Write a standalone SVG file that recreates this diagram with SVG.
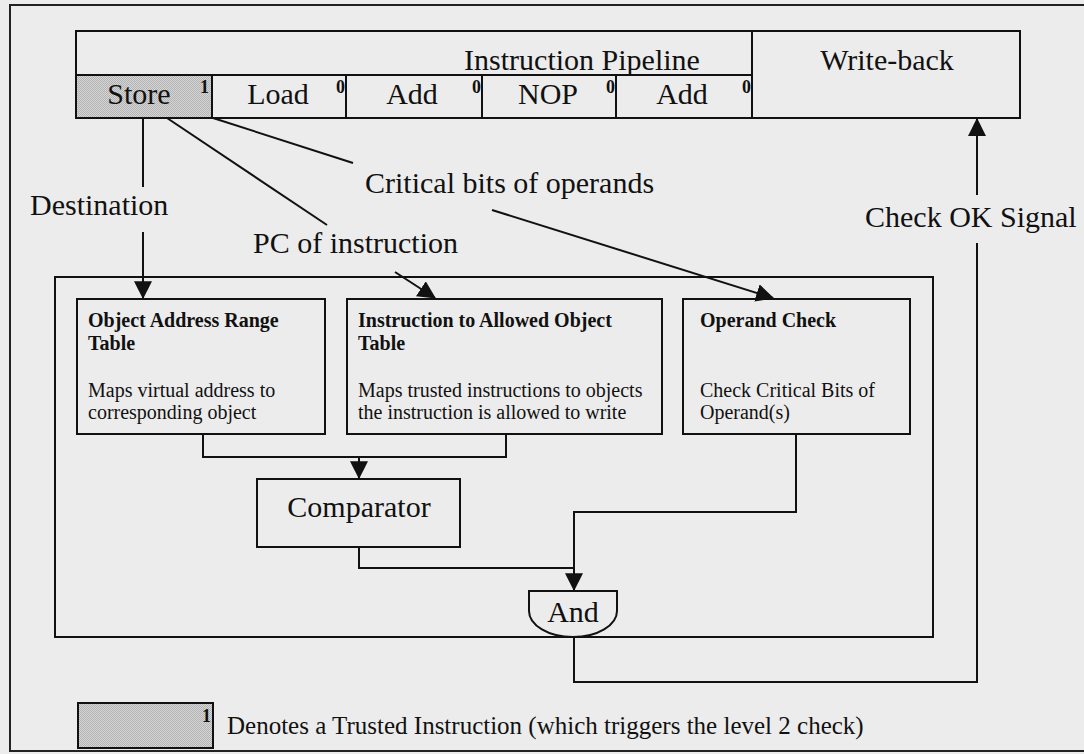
<svg xmlns="http://www.w3.org/2000/svg" width="1084" height="754" viewBox="0 0 1084 754">
<style>
  text { font-family: "Liberation Serif", "Times New Roman", serif; fill: #111; }
  .lbl { font-size: 30px; }
  .sup { font-size: 18px; font-weight: bold; }
  .bt { font-size: 20px; font-weight: bold; }
  .rt { font-size: 20px; }
  .box { fill: none; stroke: #111; stroke-width: 2; }
  .trusted { fill: url(#dots); stroke: #111; stroke-width: 2; }
  .ln { fill: none; stroke: #111; stroke-width: 2; }
</style>
<defs>
  <pattern id="dots" width="2" height="2" patternUnits="userSpaceOnUse">
    <rect width="2" height="2" fill="#d6d6d6"/>
    <rect x="0" y="0" width="1" height="1" fill="#b2b2b2"/>
    <rect x="1" y="1" width="1" height="1" fill="#b2b2b2"/>
  </pattern>
  <marker id="arr" markerUnits="userSpaceOnUse" markerWidth="18" markerHeight="18" viewBox="0 0 16 16" refX="15" refY="8" orient="auto">
    <path d="M0,0 L16,8 L0,16 Z" fill="#111"/>
  </marker>
</defs>
<rect x="0" y="0" width="1084" height="754" fill="#ececec"/>
<rect x="10" y="5" width="1084" height="746" fill="none" stroke="#222" stroke-width="2"/>

<g id="pipeline">
  <rect x="76" y="31" width="676" height="87" class="box"/>
  <line x1="76" y1="75" x2="752" y2="75" class="ln"/>
  <text class="lbl" x="582" y="70" text-anchor="middle">Instruction Pipeline</text>
</g>
<g id="cell-store">
  <rect x="76" y="75" width="136" height="43" class="trusted"/>
  <text class="lbl" x="139" y="104" text-anchor="middle">Store</text>
  <text class="sup" x="209" y="93" text-anchor="end">1</text>
</g>
<g id="cell-load">
  <rect x="212" y="75" width="134" height="43" class="box"/>
  <text class="lbl" x="278" y="104" text-anchor="middle">Load</text>
  <text class="sup" x="345" y="93" text-anchor="end">0</text>
</g>
<g id="cell-add1">
  <rect x="346" y="75" width="136" height="43" class="box"/>
  <text class="lbl" x="412" y="104" text-anchor="middle">Add</text>
  <text class="sup" x="481" y="93" text-anchor="end">0</text>
</g>
<g id="cell-nop">
  <rect x="482" y="75" width="134" height="43" class="box"/>
  <text class="lbl" x="548" y="104" text-anchor="middle">NOP</text>
  <text class="sup" x="615" y="93" text-anchor="end">0</text>
</g>
<g id="cell-add2">
  <rect x="616" y="75" width="136" height="43" class="box"/>
  <text class="lbl" x="682" y="104" text-anchor="middle">Add</text>
  <text class="sup" x="751" y="93" text-anchor="end">0</text>
</g>
<g id="writeback">
  <rect x="752" y="31" width="268" height="87" class="box"/>
  <text class="lbl" x="887" y="70" text-anchor="middle">Write-back</text>
</g>

<g id="labels">
  <text class="lbl" x="30" y="215">Destination</text>
  <text class="lbl" x="253" y="253">PC of instruction</text>
  <text class="lbl" x="365" y="193">Critical bits of operands</text>
  <text class="lbl" x="865" y="227">Check OK Signal</text>
</g>

<g id="checker">
  <rect x="55" y="277" width="878" height="360" class="box"/>
</g>
<g id="oart">
  <rect x="77" y="299" width="248" height="135" class="box"/>
  <text class="bt" x="88" y="327">Object Address Range</text>
  <text class="bt" x="88" y="350">Table</text>
  <text class="rt" x="88" y="397">Maps virtual address to</text>
  <text class="rt" x="88" y="419">corresponding object</text>
</g>
<g id="itaot">
  <rect x="347" y="299" width="315" height="135" class="box"/>
  <text class="bt" x="358" y="327">Instruction to Allowed Object</text>
  <text class="bt" x="358" y="350">Table</text>
  <text class="rt" x="358" y="397">Maps trusted instructions to objects</text>
  <text class="rt" x="358" y="419">the instruction is allowed to write</text>
</g>
<g id="opcheck">
  <rect x="683" y="299" width="227" height="135" class="box"/>
  <text class="bt" x="700" y="327">Operand Check</text>
  <text class="rt" x="700" y="397">Check Critical Bits of</text>
  <text class="rt" x="700" y="419">Operand(s)</text>
</g>
<g id="comparator">
  <rect x="257" y="479" width="203" height="68" class="box"/>
  <text class="lbl" x="359" y="517" text-anchor="middle">Comparator</text>
</g>
<g id="and">
  <path d="M529,591 L617,591 L617,611 A44,26 0 0 1 529,611 Z" class="box"/>
  <text class="lbl" x="573" y="622" text-anchor="middle">And</text>
</g>

<g id="connectors">
  <line x1="143" y1="118" x2="143" y2="187" class="ln"/>
  <line x1="143" y1="232" x2="143" y2="298" class="ln" marker-end="url(#arr)"/>
  <line x1="167" y1="118" x2="327" y2="225" class="ln"/>
  <line x1="395" y1="272" x2="435" y2="298" class="ln" marker-end="url(#arr)"/>
  <line x1="213" y1="118" x2="353" y2="163" class="ln"/>
  <line x1="492" y1="210" x2="773" y2="298" class="ln" marker-end="url(#arr)"/>
  <polyline points="203,434 203,457 506,457 506,434" class="ln"/>
  <line x1="359" y1="457" x2="359" y2="478" class="ln" marker-end="url(#arr)"/>
  <polyline points="359,547 359,568 574,568" class="ln"/>
  <polyline points="796,434 796,512 574,512 574,590" class="ln" marker-end="url(#arr)"/>
  <polyline points="574,637 574,682 977,682 977,243" class="ln"/>
  <line x1="977" y1="195" x2="977" y2="119" class="ln" marker-end="url(#arr)"/>
</g>

<g id="legend">
  <rect x="78" y="703" width="135" height="45" class="trusted"/>
  <text class="sup" x="211" y="722" text-anchor="end">1</text>
  <text x="227" y="734" style="font-size:25px">Denotes a Trusted Instruction (which triggers the level 2 check)</text>
</g>
</svg>
